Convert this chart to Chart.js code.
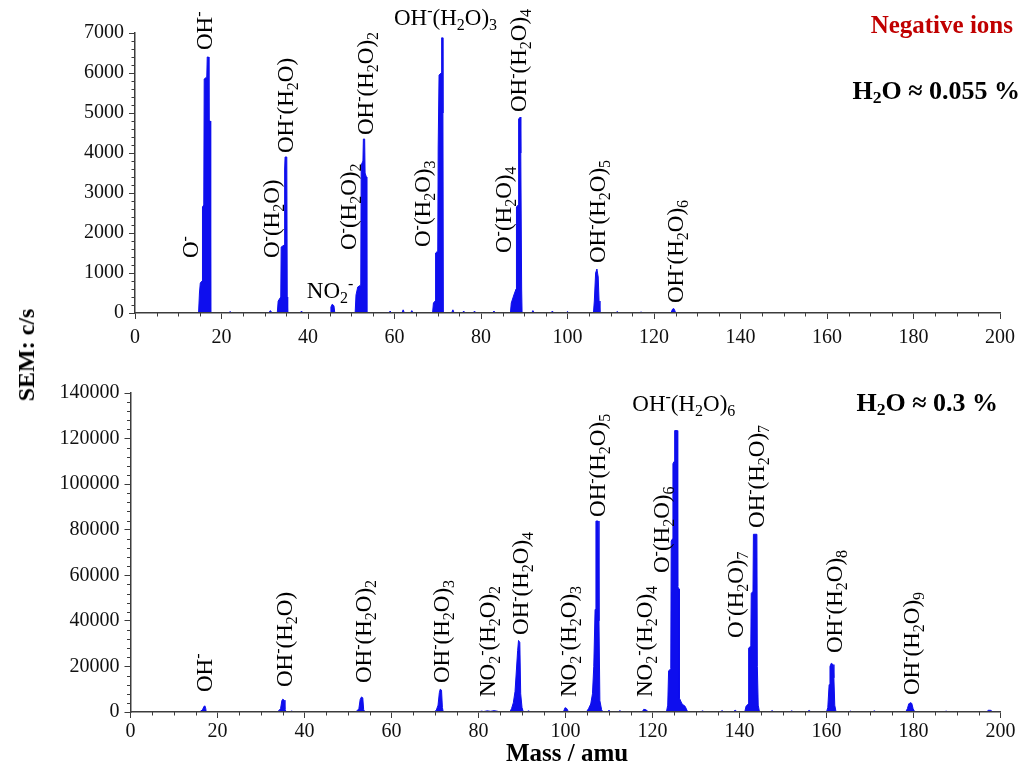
<!DOCTYPE html>
<html><head><meta charset="utf-8">
<script src="https://cdn.jsdelivr.net/npm/chart.js@4.4.1/dist/chart.umd.min.js"></script>
<style>
html,body{margin:0;padding:0;background:#fff;}
#wrap{position:relative;width:1022px;height:768px;overflow:hidden;font-family:"Liberation Serif","Times New Roman",serif;background:#fff;}
canvas{position:absolute;left:0;}
.t{position:absolute;white-space:nowrap;font-weight:bold;line-height:1;color:#000;}
.t sub{font-size:0.68em;vertical-align:-0.25em;line-height:0;}
</style></head><body>
<div id="wrap">
<canvas id="c1" width="1022" height="350" style="top:0"></canvas>
<canvas id="c2" width="1022" height="418" style="top:350px"></canvas>
<div class="t" style="right:9px;top:12px;font-size:25px;color:#c00000">Negative ions</div>
<div class="t" style="right:2px;top:78px;font-size:26px">H<sub>2</sub>O ≈ 0.055 %</div>
<div class="t" style="right:24px;top:390px;font-size:26px">H<sub>2</sub>O ≈ 0.3 %</div>
<div class="t" style="left:26px;top:355px;font-size:24px;transform:translate(-50%,-50%) rotate(-90deg)">SEM: c/s</div>
<div class="t" style="left:567px;top:752px;font-size:25px;transform:translate(-50%,-50%)">Mass / amu</div>
</div>
<script>
// ---------- data ----------
const xTicks = [0,20,40,60,80,100,120,140,160,180,200];
const topYTicks = [0,1000,2000,3000,4000,5000,6000,7000];
const botYTicks = [0,20000,40000,60000,80000,100000,120000,140000];

// Top panel (H2O ~ 0.055 %)
const topMass = [0,13.0,
  14.7,14.9,15.1,15.5,15.6,15.9,16.0,16.6,16.7,17.0,17.1,17.4,17.5,
  21.7,22.0,22.3, 30.9,31.3,31.7,
  32.9,33.1,33.7,33.8,34.5,34.6,34.7,35.1,35.2,35.3,
  38.2,38.5,38.8,
  45.1,45.3,45.6,46.0,46.2,
  50.9,51.1,51.5,52.2,52.3,52.7,52.8,53.1,53.2,53.5,53.6,
  58.7,59.0,59.3, 61.7,62.0,62.3, 63.7,64.0,64.3,
  68.8,69.0,69.4,69.5,70.0,70.1,70.3,70.8,70.9,71.1,71.2,71.3,
  73.2,73.5,73.8, 75.7,76.0,76.3, 78.2,78.5,78.8, 82.7,83.0,83.3,
  86.8,87.0,87.6,88.1,88.2,88.6,88.7,89.1,89.2,89.4,89.5,
  91.7,92.0,92.3, 96.2,96.5,96.8, 99.7,100.0,100.3,
  106.0,106.2,106.5,106.8,107.1,107.3,107.5,
  111.2,111.5,111.8, 116.7,117.0,117.3,
  123.9,124.3,124.6,124.9,125.1, 200];
const topCounts = [0,0,
  0,500,750,800,2650,2700,5850,5900,6400,6400,4800,4800,0,
  0,40,0, 0,60,0,
  0,300,400,1650,1700,3600,3900,3900,400,0,
  0,50,0,
  0,150,220,180,0,
  0,450,650,700,3700,3800,4350,4350,3500,3400,0,
  0,50,0, 0,80,0, 0,60,0,
  0,250,300,1500,1550,4150,5950,6000,6880,6880,5000,0,
  0,80,0, 0,50,0, 0,50,0, 0,50,0,
  0,250,450,600,2650,2700,4850,4900,4000,600,0,
  0,60,0, 0,50,0, 0,40,0,
  0,300,1000,1100,900,300,0,
  0,40,0, 0,30,0,
  0,100,110,40,0, 0];

// Bottom panel (H2O ~ 0.3 %)
const botMass = [0,
  15.6,16.2,16.6,16.9,17.1,17.3,17.4,
  33.7,34.1,34.5,34.8,35.0,35.3,35.5,35.8,36.0,
  36.8,37.1,37.4,
  51.6,52.1,52.5,52.8,53.1,53.4,53.6,53.9,
  69.8,70.3,70.7,71.0,71.2,71.5,71.7,71.9,
  80.2,80.6,81.2,82.0,82.8,83.6,84.4,85.0,
  87.2,87.6,88.0,88.4,88.7,89.0,89.2,89.5,89.7,90.0,90.3,
  91.0,91.5,92.0,
  99.5,99.9,100.3,100.7,
  104.8,105.3,105.8,106.2,106.5,106.8,107.0,107.5,107.7,107.9,108.3,108.6,
  109.5,110.0,110.5, 112.0,112.5,113.0,
  117.6,118.0,118.6,119.0,
  123.2,123.5,123.7,124.2,124.3,124.6,124.7,125.0,125.1,125.7,125.8,126.1,126.2,126.8,127.5,128.1,
  131.0,131.5,132.0, 135.5,136.0,136.5, 138.5,139.0,139.5,
  141.2,141.5,142.0,142.1,142.6,142.7,143.1,143.2,144.0,144.1,144.3,144.6,
  147.0,147.5,148.0, 151.5,152.0,152.5, 155.5,156.0,156.5,
  160.0,160.3,160.6,160.8,161.1,161.5,161.7,161.9,162.2,
  165.0,165.5,166.0, 170.5,171.0,171.5,
  178.2,178.6,178.9,179.2,179.6,179.9,180.3,
  187.0,187.5,188.0,
  196.8,197.2,197.8,198.2, 200];
const botCounts = [0,
  0,400,1200,2500,2700,1500,0,
  0,600,1500,5000,5600,5200,1000,300,0,
  0,500,0,
  0,500,1500,5500,6600,6200,1000,0,
  0,800,3000,8500,10000,9600,2000,0,
  0,400,200,500,300,600,300,0,
  0,1500,4000,9000,18000,27000,31400,30500,8000,2000,0,
  0,500,0,
  0,1900,1500,0,
  0,1500,3500,8000,20000,45000,83800,83800,40000,5000,1000,0,
  0,700,0, 0,600,0,
  0,1200,900,0,
  0,3000,18000,19000,75000,76000,109000,110000,123500,123500,55000,54000,6000,3500,2500,0,
  0,500,0, 0,600,0, 0,800,0,
  0,2500,3500,28000,29000,52000,53000,78000,78000,20000,3000,0,
  0,600,0, 0,500,0, 0,700,0,
  0,2000,12000,20000,21400,20800,15000,3000,0,
  0,400,0, 0,500,0,
  0,1500,3500,4100,3800,1500,0,
  0,400,0,
  0,800,700,0, 0];

// Peak labels: text, anchor mass, anchor count (start of text), vertical flag
const topLabelText  = ['O⁻','OH⁻','O⁻(H₂O)','OH⁻(H₂O)','NO₂⁻','O⁻(H₂O)₂','OH⁻(H₂O)₂','OH⁻(H₂O)₃','O⁻(H₂O)₃','O⁻(H₂O)₄','OH⁻(H₂O)₄','OH⁻(H₂O)₅','OH⁻(H₂O)₆'];
const topLabelMass  = [12.8,16.0,31.6,34.8,45.1,49.3,53.2,71.8,66.5,85.2,88.6,107.0,125.0];
const topLabelCount = [1375,6575,1375,4000,575,1575,4450,7400,1650,1500,5025,1250,250];
const topLabelVert  = [1,1,1,1,0,1,1,0,1,1,1,1,1];

const botLabelText  = ['OH⁻','OH⁻(H₂O)','OH⁻(H₂O)₂','OH⁻(H₂O)₃','NO₂⁻(H₂O)₂','OH⁻(H₂O)₄','NO₂⁻(H₂O)₃','OH⁻(H₂O)₅','OH⁻(H₂O)₆','NO₂⁻(H₂O)₄','O⁻(H₂O)₆','O⁻(H₂O)₇','OH⁻(H₂O)₇','OH⁻(H₂O)₈','OH⁻(H₂O)₉'];
const botLabelMass  = [16.9,35.3,53.5,71.4,82.0,89.6,100.6,107.3,127.2,118.1,122.0,139.0,143.8,161.8,179.5];
const botLabelCount = [8780,10970,12730,12730,6580,33800,6580,85600,135600,6580,61000,32500,80760,25900,7460];
const botLabelVert  = [1,1,1,1,1,1,1,1,0,1,1,1,1,1,1];

// ---------- styling / helpers ----------
const AXIS = '#3c3c3c';
const BLUE = 'rgb(14,14,238)';
const FAMILY = '"Liberation Serif", "Times New Roman", serif';

const SUB = {'₀':'0','₁':'1','₂':'2','₃':'3','₄':'4','₅':'5','₆':'6','₇':'7','₈':'8','₉':'9'};
const SUP = {'⁻':'-','⁺':'+'};
function segs(str){
  const out=[];
  for (const ch of str){
    let k='n', c=ch;
    if (SUB[ch]) {k='b'; c=SUB[ch];} else if (SUP[ch]) {k='p'; c=SUP[ch];}
    const last=out[out.length-1];
    if (last && last.k===k) last.c+=c; else out.push({k,c});
  }
  return out;
}
function fontFor(k,size){ const s = k==='n'?size:Math.round(size*0.68); return s+'px '+FAMILY; }
function richWidth(ctx,str,size){ let w=0; for(const s of segs(str)){ctx.font=fontFor(s.k,size); w+=ctx.measureText(s.c).width;} return w; }
function drawRich(ctx,str,x,y,size){
  let cx=x;
  for (const s of segs(str)){
    ctx.font=fontFor(s.k,size);
    const dy = s.k==='b' ? size*0.22 : (s.k==='p' ? -size*0.36 : 0);
    ctx.fillText(s.c,cx,y+dy);
    cx+=ctx.measureText(s.c).width;
  }
}

function labelPlugin(text, mass, count, vert, size){
  return {
    id:'peakLabels',
    afterDraw(chart){
      const ctx=chart.ctx, xs=chart.scales.x, ys=chart.scales.y;
      ctx.save();
      ctx.fillStyle='#000'; ctx.textAlign='left'; ctx.textBaseline='alphabetic';
      text.forEach((t,i)=>{
        const px=xs.getPixelForValue(mass[i]);
        const py=ys.getPixelForValue(count[i]);
        if (vert[i]) {
          ctx.save(); ctx.translate(px,py); ctx.rotate(-Math.PI/2);
          drawRich(ctx,t,0,size*0.33,size);
          ctx.restore();
        } else {
          const w=richWidth(ctx,t,size);
          drawRich(ctx,t,px-w/2,py+size*0.33,size);
        }
      });
      ctx.restore();
    }
  };
}

function minorPlugin(xStep, xMajor, yStep, yMajor){
  return {
    id:'minorTicks',
    afterDraw(chart){
      const ctx=chart.ctx, xs=chart.scales.x, ys=chart.scales.y;
      ctx.save(); ctx.strokeStyle=AXIS; ctx.lineWidth=1;
      ctx.beginPath();
      for (let v=xs.min; v<=xs.max+1e-9; v+=xStep){
        if (Math.abs(v/xMajor-Math.round(v/xMajor))<1e-6) continue;
        const p=Math.round(xs.getPixelForValue(v))+0.5;
        ctx.moveTo(p,xs.top); ctx.lineTo(p,xs.top+3.5);
      }
      for (let v=ys.min; v<=ys.max+1e-9; v+=yStep){
        if (Math.abs(v/yMajor-Math.round(v/yMajor))<1e-6) continue;
        const p=Math.round(ys.getPixelForValue(v))+0.5;
        ctx.moveTo(ys.right,p); ctx.lineTo(ys.right-3.5,p);
      }
      ctx.stroke(); ctx.restore();
    }
  };
}

function makeChart(id, mass, counts, yTicks, area, plugins){
  const data = mass.map((m,i)=>({x:m, y:counts[i]}));
  const tickFont = {family:FAMILY, size:20};
  const plain = v => String(v);
  return new Chart(document.getElementById(id), {
    type:'line',
    data:{datasets:[{data, borderColor:BLUE, backgroundColor:BLUE, borderWidth:1, fill:'origin', pointRadius:0, tension:0}]},
    options:{
      responsive:false, animation:false, events:[],
      layout:{padding:{left:0, top:area.top, right:area.right, bottom:0}},
      plugins:{legend:{display:false}, tooltip:{enabled:false}},
      scales:{
        x:{type:'linear', min:0, max:200,
           afterBuildTicks:s=>{ s.ticks = xTicks.map(v=>({value:v})); },
           afterFit:s=>{ s.height = area.xh; },
           ticks:{font:tickFont, color:'#111', padding:area.xpad, maxRotation:0, autoSkip:false, callback:plain},
           grid:{drawOnChartArea:false, drawTicks:true, tickLength:6, color:AXIS, tickWidth:1},
           border:{display:true, color:AXIS, width:1.5, z:1}},
        y:{type:'linear', min:0, max:yTicks[yTicks.length-1],
           afterBuildTicks:s=>{ s.ticks = yTicks.map(v=>({value:v})); },
           afterFit:s=>{ s.width = area.yw; },
           ticks:{font:tickFont, color:'#111', padding:5, autoSkip:false, callback:plain},
           grid:{drawOnChartArea:false, drawTicks:true, tickLength:6, color:AXIS, tickWidth:1},
           border:{display:true, color:AXIS, width:1.5, z:1}}
      }
    },
    plugins
  });
}

makeChart('c1', topMass, topCounts, topYTicks,
  {top:33, right:18, yw:135, xh:37, xpad:7},
  [minorPlugin(5,20,200,1000), labelPlugin(topLabelText, topLabelMass, topLabelCount, topLabelVert, 23)]);
makeChart('c2', botMass, botCounts, botYTicks,
  {top:43, right:21.5, yw:130.5, xh:56, xpad:2},
  [minorPlugin(5,20,4000,20000), labelPlugin(botLabelText, botLabelMass, botLabelCount, botLabelVert, 23)]);
</script>
</body></html>
